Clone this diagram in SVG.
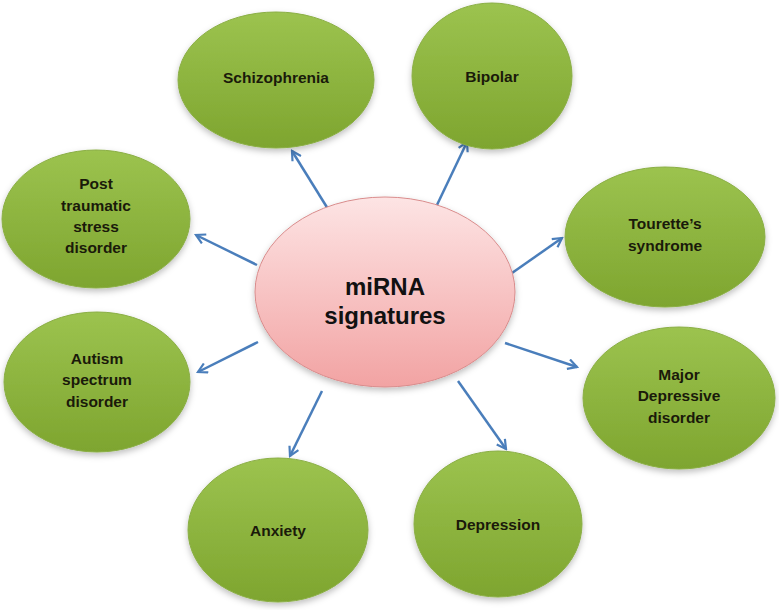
<svg xmlns="http://www.w3.org/2000/svg" width="779" height="610" viewBox="0 0 779 610">
<defs>
<linearGradient id="g" x1="0" y1="0" x2="0" y2="1">
<stop offset="0" stop-color="#9cc34f"/>
<stop offset="1" stop-color="#7ea52f"/>
</linearGradient>
<linearGradient id="p" x1="0" y1="0" x2="0" y2="1">
<stop offset="0" stop-color="#fde4e4"/>
<stop offset="1" stop-color="#f2a3a3"/>
</linearGradient>
<filter id="sh" x="-20%" y="-20%" width="140%" height="150%">
<feDropShadow dx="0" dy="3" stdDeviation="3" flood-color="#000" flood-opacity="0.25"/>
</filter>
<marker id="ah" viewBox="0 0 12 12" refX="10" refY="6" markerWidth="12" markerHeight="12" markerUnits="userSpaceOnUse" orient="auto">
<polyline points="1,1 10,6 1,11" fill="none" stroke="#4a7ebb" stroke-width="2.2" stroke-linejoin="miter"/>
</marker>
</defs>
<style>
.leaf{fill:url(#g);stroke:#8aae45;stroke-width:1;filter:url(#sh)}
.t{font-family:"Liberation Sans",Arial,sans-serif;font-weight:bold;font-size:15.5px;fill:#1a1a0a;text-anchor:middle}
.c{font-family:"Liberation Sans",Arial,sans-serif;font-weight:bold;font-size:24px;fill:#111;text-anchor:middle}
.a{stroke:#4a7ebb;stroke-width:2.5;fill:none;marker-end:url(#ah)}
</style>
<rect width="779" height="610" fill="#fff"/>
<g id="connectors">
<line class="a" x1="328" y1="209" x2="292" y2="151"/>
<line class="a" x1="436" y1="207" x2="467" y2="142"/>
<line class="a" x1="257" y1="265" x2="196" y2="235"/>
<line class="a" x1="512" y1="273" x2="562" y2="238"/>
<line class="a" x1="258" y1="342" x2="198" y2="372"/>
<line class="a" x1="505" y1="343" x2="577" y2="367"/>
<line class="a" x1="322" y1="391" x2="290" y2="456"/>
<line class="a" x1="458" y1="381" x2="506" y2="449"/>
</g>
<g id="center">
<ellipse cx="385" cy="292" rx="130" ry="95" fill="url(#p)" stroke="#d98c8c" stroke-width="1" filter="url(#sh)"/>
<text class="c" x="385" y="295">miRNA</text>
<text class="c" x="385" y="324">signatures</text>
</g>
<g id="schizophrenia">
<ellipse class="leaf" cx="276" cy="80" rx="98" ry="68"/>
<text class="t" x="276" y="83">Schizophrenia</text>
</g>
<g id="bipolar">
<ellipse class="leaf" cx="492" cy="76" rx="80" ry="73"/>
<text class="t" x="492" y="82">Bipolar</text>
</g>
<g id="ptsd">
<ellipse class="leaf" cx="96" cy="219" rx="94" ry="69"/>
<text class="t" x="96" y="189">Post</text>
<text class="t" x="96" y="211">traumatic</text>
<text class="t" x="96" y="232">stress</text>
<text class="t" x="96" y="253">disorder</text>
</g>
<g id="tourette">
<ellipse class="leaf" cx="665" cy="237" rx="100" ry="70"/>
<text class="t" x="665" y="229">Tourette’s</text>
<text class="t" x="665" y="251">syndrome</text>
</g>
<g id="autism">
<ellipse class="leaf" cx="97" cy="382" rx="93" ry="70"/>
<text class="t" x="97" y="364">Autism</text>
<text class="t" x="97" y="385">spectrum</text>
<text class="t" x="97" y="407">disorder</text>
</g>
<g id="major">
<ellipse class="leaf" cx="679" cy="398" rx="96" ry="71"/>
<text class="t" x="679" y="380">Major</text>
<text class="t" x="679" y="401">Depressive</text>
<text class="t" x="679" y="423">disorder</text>
</g>
<g id="anxiety">
<ellipse class="leaf" cx="278" cy="530" rx="90" ry="72"/>
<text class="t" x="278" y="536">Anxiety</text>
</g>
<g id="depression">
<ellipse class="leaf" cx="498" cy="524" rx="84" ry="73"/>
<text class="t" x="498" y="530">Depression</text>
</g>
</svg>
